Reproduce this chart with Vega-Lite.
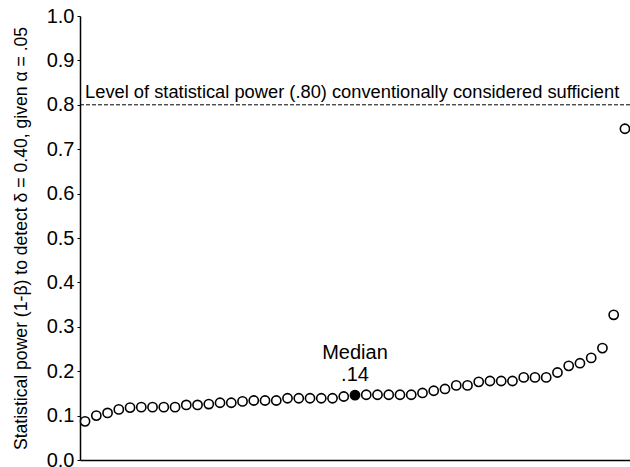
{
  "$schema": "https://vega.github.io/schema/vega-lite/v6.json",
  "width": 550,
  "height": 444,
  "autosize": {"type": "none"},
  "padding": {"left": 80, "top": 16, "right": 0, "bottom": 7},
  "background": "white",
  "config": {
    "view": {"stroke": null},
    "font": "Liberation Sans",
    "axis": {"grid": false, "domainColor": "#000", "tickColor": "#000", "labelColor": "#000", "titleColor": "#000", "labelFont": "Liberation Sans", "titleFont": "Liberation Sans"}
  },
  "datasets": {
    "studies": [
      {"study": 1, "power": 0.087, "median": "no"},
      {"study": 2, "power": 0.100, "median": "no"},
      {"study": 3, "power": 0.106, "median": "no"},
      {"study": 4, "power": 0.114, "median": "no"},
      {"study": 5, "power": 0.118, "median": "no"},
      {"study": 6, "power": 0.119, "median": "no"},
      {"study": 7, "power": 0.119, "median": "no"},
      {"study": 8, "power": 0.119, "median": "no"},
      {"study": 9, "power": 0.119, "median": "no"},
      {"study": 10, "power": 0.124, "median": "no"},
      {"study": 11, "power": 0.124, "median": "no"},
      {"study": 12, "power": 0.126, "median": "no"},
      {"study": 13, "power": 0.129, "median": "no"},
      {"study": 14, "power": 0.129, "median": "no"},
      {"study": 15, "power": 0.132, "median": "no"},
      {"study": 16, "power": 0.134, "median": "no"},
      {"study": 17, "power": 0.134, "median": "no"},
      {"study": 18, "power": 0.134, "median": "no"},
      {"study": 19, "power": 0.139, "median": "no"},
      {"study": 20, "power": 0.139, "median": "no"},
      {"study": 21, "power": 0.139, "median": "no"},
      {"study": 22, "power": 0.139, "median": "no"},
      {"study": 23, "power": 0.139, "median": "no"},
      {"study": 24, "power": 0.143, "median": "no"},
      {"study": 25, "power": 0.146, "median": "yes", "label": ".14"},
      {"study": 26, "power": 0.147, "median": "no"},
      {"study": 27, "power": 0.147, "median": "no"},
      {"study": 28, "power": 0.147, "median": "no"},
      {"study": 29, "power": 0.147, "median": "no"},
      {"study": 30, "power": 0.147, "median": "no"},
      {"study": 31, "power": 0.151, "median": "no"},
      {"study": 32, "power": 0.156, "median": "no"},
      {"study": 33, "power": 0.160, "median": "no"},
      {"study": 34, "power": 0.168, "median": "no"},
      {"study": 35, "power": 0.168, "median": "no"},
      {"study": 36, "power": 0.176, "median": "no"},
      {"study": 37, "power": 0.178, "median": "no"},
      {"study": 38, "power": 0.178, "median": "no"},
      {"study": 39, "power": 0.178, "median": "no"},
      {"study": 40, "power": 0.186, "median": "no"},
      {"study": 41, "power": 0.186, "median": "no"},
      {"study": 42, "power": 0.186, "median": "no"},
      {"study": 43, "power": 0.197, "median": "no"},
      {"study": 44, "power": 0.212, "median": "no"},
      {"study": 45, "power": 0.218, "median": "no"},
      {"study": 46, "power": 0.230, "median": "no"},
      {"study": 47, "power": 0.252, "median": "no"},
      {"study": 48, "power": 0.327, "median": "no"},
      {"study": 49, "power": 0.746, "median": "no"}
    ],
    "threshold": [
      {"power": 0.8, "label": "Level of statistical power (.80) conventionally considered sufficient"}
    ]
  },
  "layer": [
    {
      "data": {"name": "threshold"},
      "mark": {"type": "rule", "color": "#000", "strokeWidth": 1, "strokeDash": [4, 2]},
      "encoding": {
        "y": {"field": "power", "type": "quantitative", "scale": {"domain": [0, 1]}}
      }
    },
    {
      "data": {"name": "threshold"},
      "mark": {"type": "text", "align": "left", "baseline": "middle", "dy": -12, "fontSize": 18.3, "color": "#000"},
      "encoding": {
        "x": {"datum": 1, "type": "quantitative"},
        "y": {"field": "power", "type": "quantitative"},
        "text": {"field": "label"}
      }
    },
    {
      "data": {"name": "studies"},
      "mark": {"type": "point", "shape": "circle", "size": 85, "strokeWidth": 1.6, "opacity": 1},
      "encoding": {
        "x": {
          "field": "study", "type": "quantitative",
          "scale": {"domain": [0.55, 49.45], "nice": false, "zero": false},
          "axis": {"title": null, "labels": false, "ticks": false, "domainWidth": 1.5}
        },
        "y": {
          "field": "power", "type": "quantitative",
          "scale": {"domain": [0, 1], "nice": false},
          "axis": {
            "title": "Statistical power (1-β) to detect δ = 0.40, given α = .05",
            "titleFontSize": 17.6, "titleFontWeight": "normal", "titlePadding": 16,
            "values": [0, 0.1, 0.2, 0.3, 0.4, 0.5, 0.6, 0.7, 0.8, 0.9, 1.0],
            "format": ".1f", "labelFontSize": 20, "tickSize": 3, "labelPadding": 3, "domainWidth": 1.5
          }
        },
        "color": {"value": "#000"},
        "fill": {"field": "median", "type": "nominal", "scale": {"domain": ["no", "yes"], "range": ["#fff", "#000"]}, "legend": null}
      }
    },
    {
      "data": {"name": "studies"},
      "transform": [{"filter": "datum.median == 'yes'"}],
      "mark": {"type": "text", "baseline": "middle", "align": "center", "dy": -20, "fontSize": 20, "color": "#000"},
      "encoding": {
        "x": {"field": "study", "type": "quantitative"},
        "y": {"field": "power", "type": "quantitative"},
        "text": {"field": "label"}
      }
    },
    {
      "data": {"name": "studies"},
      "transform": [{"filter": "datum.median == 'yes'"}],
      "mark": {"type": "text", "baseline": "middle", "align": "center", "dy": -42, "fontSize": 20, "color": "#000", "text": "Median"},
      "encoding": {
        "x": {"field": "study", "type": "quantitative"},
        "y": {"field": "power", "type": "quantitative"}
      }
    }
  ]
}
